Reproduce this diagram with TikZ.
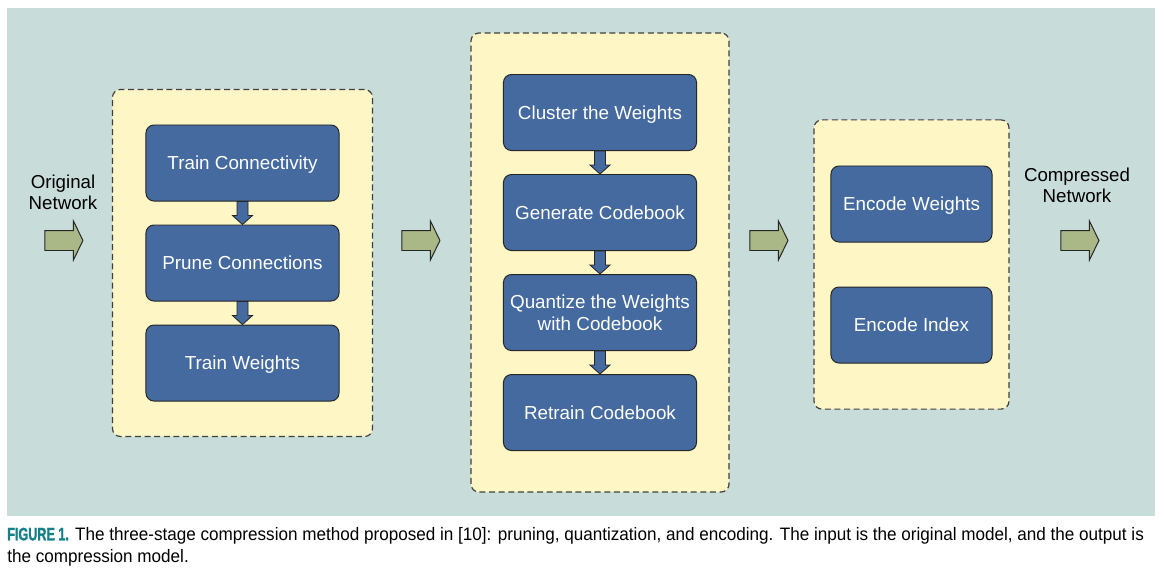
\documentclass[tikz,border=0pt]{standalone}
\usepackage{fontspec}
\setmainfont{Liberation Sans}
\newfontfamily\captionfont[FakeStretch=0.95]{Liberation Sans}
\newfontfamily\figurefont[FakeStretch=0.7,BoldFeatures={FakeBold=1.5}]{Liberation Sans}
\usepackage{tikz}
\usetikzlibrary{shapes.arrows,fit,positioning,backgrounds}
\definecolor{panel}{RGB}{200,220,218}
\definecolor{stageyellow}{RGB}{255,246,198}
\definecolor{stepblue}{RGB}{68,106,160}
\definecolor{arrowgreen}{RGB}{170,184,136}
\definecolor{figureteal}{RGB}{22,128,138}
\tikzset{
    %Define style for step boxes
    stepbox/.style={
           rectangle,
           rounded corners=0.2cm,
           draw=black!85, line width=0.7pt,
           fill=stepblue,
           minimum width=4.825cm,
           minimum height=1.9cm,
           font=\fontsize{13.4}{15.8}\selectfont,
           text=white,
           text depth=0pt,
           align=center},
    %Define style for dashed stages
    stagebox/.style={
           rectangle,
           rounded corners=0.2cm,
           draw=black!75, line width=0.85pt,
           dash pattern=on 0.15cm off 0.09cm,
           fill=stageyellow},
    %Define style for side texts
    sidetext/.style={
           inner sep=0pt,
           align=center,
           font=\fontsize{13.3}{14.5}\selectfont},
    % Define arrow styles
    flow/.style={
           single arrow,
           draw=black!85, line width=0.7pt,
           fill=arrowgreen,
           minimum height=0.95cm,
           minimum width=0pt,
           inner xsep=0pt, inner ysep=0.2375cm,
           single arrow head extend=0.2375cm,
           single arrow tip angle=128},
    steparrow/.style={
           fill=stepblue,
           draw=black!85, line width=0.6pt}
}
% block arrow from one step box down to the next
\newcommand{\flowdown}[2]{%
  \filldraw[steparrow] ([xshift=-0.1375cm]#1.south) -- ([xshift=0.1375cm]#1.south)
    -- ([xshift=0.1375cm,yshift=0.225cm]#2.north) -- ([xshift=0.25cm,yshift=0.225cm]#2.north)
    -- (#2.north) -- ([xshift=-0.25cm,yshift=0.225cm]#2.north)
    -- ([xshift=-0.1375cm,yshift=0.225cm]#2.north) -- cycle;}

\begin{document}
\begin{tikzpicture}[x=0.025cm,y=-0.025cm,node distance=0.575cm]
\useasboundingbox (0,0) rectangle (1164,573);

 %stage 1: pruning
\node[stepbox](tc) at (242.5,163){Train Connectivity};
\node[stepbox, below=of tc](pc){Prune Connections};
\node[stepbox, below=of pc](tw){Train Weights};

 %stage 2: quantization
\begin{scope}[every node/.append style={minimum height=1.875cm}]
\node[stepbox](cw) at (600,112.5){Cluster the Weights};
\node[stepbox, below=of cw](gc){Generate Codebook};
\node[stepbox, below=of gc](qw){Quantize the Weights\\with Codebook};
\node[stepbox, below=of qw](rc){Retrain Codebook};
\end{scope}

 %stage 3: encoding
\node[stepbox, minimum width=4.025cm](ew) at (911.5,204){Encode Weights};
\node[stepbox, minimum width=4.025cm, below=1.1cm of ew](ei){Encode Index};

 %input and output
\node[sidetext, anchor=north](in) at (63,175){Original\\Network};
\node[sidetext, anchor=north](out) at (1077,168){Compressed\\Network};

\node[flow](f1) at (61.5,240.5){};
\node[flow](f2) at (418.5,240.5){};
\node[flow](f3) at (766.5,240.5){};
\node[flow](f4) at (1077.5,240.5){};

 %panel and stages
\begin{scope}[on background layer]
  \fill[panel] (7,8) rectangle (1155,516);
  \node[stagebox, fit=(tc)(tw), inner xsep=0.825cm, inner ysep=0.875cm](s1){};
  \node[stagebox, fit=(cw)(rc), inner xsep=0.8cm, inner ysep=1.025cm](s2){};
  \node[stagebox, fit=(ew)(ei), inner xsep=0.4125cm, inner ysep=1.14cm](s3){};
\end{scope}

 %arrows between steps
\flowdown{tc}{pc}
\flowdown{pc}{tw}
\flowdown{cw}{gc}
\flowdown{gc}{qw}
\flowdown{qw}{rc}

 %caption
\node[anchor=north west, align=left, inner sep=0pt,
      font=\captionfont\fontsize{12.8}{15.6}\selectfont](cap) at (7,527)
  {{\figurefont\bfseries\color{figureteal}FIGURE 1.} The three-stage compression method proposed in [10]: pruning, quantization, and encoding. The input is the original model, and the output is\\the compression model.};

\end{tikzpicture}
\end{document}
